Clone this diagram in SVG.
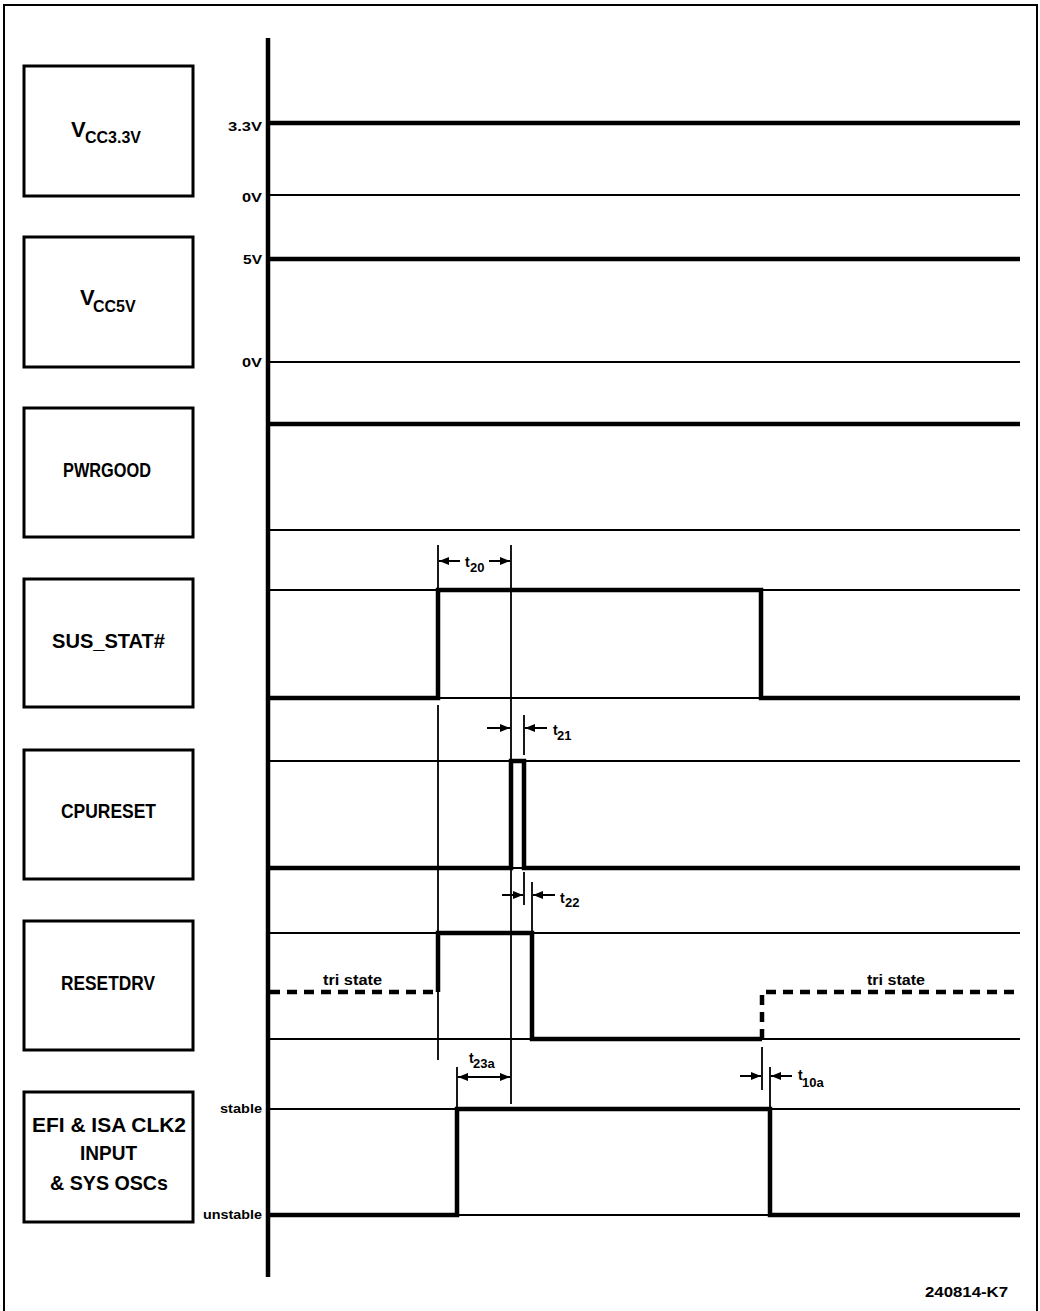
<svg xmlns="http://www.w3.org/2000/svg" width="1040" height="1311" viewBox="0 0 1040 1311">
<defs>
<style>
.frame{fill:none;stroke:#000;stroke-width:2}
.box{fill:#fff;stroke:#000;stroke-width:3}
.axis{fill:none;stroke:#000;stroke-width:4.5}
.ref{fill:none;stroke:#000;stroke-width:2}
.wave{fill:none;stroke:#000;stroke-width:4.5;stroke-linejoin:miter}
.dash{fill:none;stroke:#000;stroke-width:4.5;stroke-dasharray:10 7}
.tick{fill:none;stroke:#000;stroke-width:1.8}
.arr{fill:none;stroke:#000;stroke-width:2;marker-end:url(#ah)}
.arr2{fill:none;stroke:#000;stroke-width:2;marker-end:url(#ah);marker-start:url(#ah)}
text{font-family:"Liberation Sans",Arial,sans-serif;font-weight:bold;fill:#000}
.lbl{font-size:21px}
.big{font-size:22px}
.subl{font-size:16px}
.ax{font-size:13px}
.ts{font-size:14px}
.tl{font-size:14px}
.sub{font-size:13px}
</style>
<marker id="ah" viewBox="0 0 10 8" refX="10" refY="4" markerWidth="10" markerHeight="8" markerUnits="userSpaceOnUse" orient="auto-start-reverse">
<path d="M0,0 L10,4 L0,8 z" fill="#000"/>
</marker>
</defs>
<rect width="1040" height="1311" fill="#fff"/>
<path class="frame" d="M4,1311 V5 H1037 V1311"/>

<g id="node-vcc33">
<rect class="box" x="24" y="66" width="169" height="130"/>
<text><tspan class="big" x="71" y="137">V</tspan><tspan class="subl" x="85" y="143">CC3.3V</tspan></text>
</g>
<g id="node-vcc5">
<rect class="box" x="24" y="237" width="169" height="130"/>
<text><tspan class="big" x="80" y="305">V</tspan><tspan class="subl" x="93" y="312">CC5V</tspan></text>
</g>
<g id="node-pwrgood">
<rect class="box" x="24" y="408" width="169" height="129"/>
<text class="lbl" x="63" y="477" textLength="88" lengthAdjust="spacingAndGlyphs">PWRGOOD</text>
</g>
<g id="node-susstat">
<rect class="box" x="24" y="579" width="169" height="128"/>
<text class="lbl" x="52" y="648" textLength="113" lengthAdjust="spacingAndGlyphs">SUS_STAT#</text>
</g>
<g id="node-cpureset">
<rect class="box" x="24" y="750" width="169" height="129"/>
<text class="lbl" x="61" y="818" textLength="95" lengthAdjust="spacingAndGlyphs">CPURESET</text>
</g>
<g id="node-resetdrv">
<rect class="box" x="24" y="921" width="169" height="129"/>
<text class="lbl" x="61" y="990" textLength="94" lengthAdjust="spacingAndGlyphs">RESETDRV</text>
</g>
<g id="node-efi">
<rect class="box" x="24" y="1092" width="169" height="130"/>
<text class="lbl" x="32" y="1132" textLength="154" lengthAdjust="spacingAndGlyphs">EFI &amp; ISA CLK2</text>
<text class="lbl" x="80" y="1160" textLength="57" lengthAdjust="spacingAndGlyphs">INPUT</text>
<text class="lbl" x="50" y="1190" textLength="118" lengthAdjust="spacingAndGlyphs">&amp; SYS OSCs</text>
</g>

<g id="axis-labels">
<text class="ax" x="228" y="131" textLength="34" lengthAdjust="spacingAndGlyphs">3.3V</text>
<text class="ax" x="242" y="202" textLength="20" lengthAdjust="spacingAndGlyphs">0V</text>
<text class="ax" x="243" y="264" textLength="19" lengthAdjust="spacingAndGlyphs">5V</text>
<text class="ax" x="242" y="367" textLength="20" lengthAdjust="spacingAndGlyphs">0V</text>
<text class="ax" x="220" y="1113" textLength="42" lengthAdjust="spacingAndGlyphs">stable</text>
<text class="ax" x="203" y="1219" textLength="59" lengthAdjust="spacingAndGlyphs">unstable</text>
</g>

<g id="connectors">
<path class="axis" d="M268,38 V1277"/>
<!-- reference levels -->
<path class="ref" d="M268,195 H1020 M268,362 H1020 M268,530 H1020 M268,590 H1020 M268,698 H1020 M268,761 H1020 M268,868 H1020 M268,933 H1020 M268,1039 H1020 M268,1109 H1020 M268,1215 H1020"/>
<!-- waveforms -->
<path class="wave" d="M268,123 H1020"/>
<path class="wave" d="M268,259 H1020"/>
<path class="wave" d="M268,424 H1020"/>
<path class="wave" d="M268,698 H438 V590 H761 V698 H1020"/>
<path class="wave" d="M268,868 H511 V761 H524 V868 H1020"/>
<path class="wave" d="M438,992 V933 H532 V1039 H762"/>
<path class="dash" d="M270,992 H436"/>
<path class="dash" d="M762,1039 V992 H1020"/>
<path class="wave" d="M268,1215 H457 V1109 H770 V1215 H1020"/>
<!-- timing ticks -->
<path class="tick" d="M438,545 V590 M438,705 V1060 M511,545 V1104 M524,715 V755 M524,872 V905 M532,882 V933 M457,1067 V1109 M762,1047 V1090 M770,1067 V1109"/>
<!-- timing arrows -->
<path class="arr" d="M460,561 H439"/>
<path class="arr" d="M489,561 H510"/>
<path class="arr" d="M487,728 H510"/>
<path class="arr" d="M547,728 H525"/>
<path class="arr" d="M502,895 H523"/>
<path class="arr" d="M555,895 H533"/>
<path class="arr2" d="M458,1077 H510"/>
<path class="arr" d="M740,1076 H761"/>
<path class="arr" d="M792,1076 H771"/>
</g>

<g id="timing-labels">
<text class="tl"><tspan x="465" y="567">t</tspan><tspan class="sub" x="470" y="572">20</tspan></text>
<text class="tl"><tspan x="553" y="735">t</tspan><tspan class="sub" x="557" y="740">21</tspan></text>
<text class="tl"><tspan x="560" y="903">t</tspan><tspan class="sub" x="565" y="907">22</tspan></text>
<text class="tl"><tspan x="469" y="1063">t</tspan><tspan class="sub" x="473" y="1068">23a</tspan></text>
<text class="tl"><tspan x="798" y="1080">t</tspan><tspan class="sub" x="802" y="1087">10a</tspan></text>
<text class="ts" x="323" y="985" textLength="59" lengthAdjust="spacingAndGlyphs">tri state</text>
<text class="ts" x="867" y="985" textLength="58" lengthAdjust="spacingAndGlyphs">tri state</text>
<text class="ts" x="925" y="1297" textLength="83" lengthAdjust="spacingAndGlyphs">240814-K7</text>
</g>
</svg>
